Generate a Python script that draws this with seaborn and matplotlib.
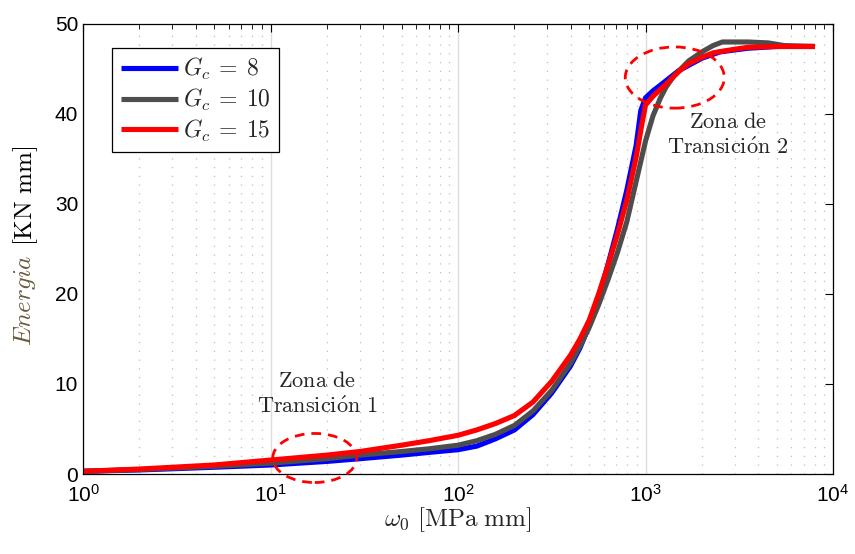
import matplotlib
matplotlib.use("Agg")
import numpy as np
import pandas as pd
import seaborn as sns
import matplotlib.pyplot as plt
from matplotlib.patches import Ellipse
from matplotlib.ticker import LogLocator, NullFormatter

# Energy vs. omega_0 for three critical energy release rates G_c
w_gc8 = [1, 2, 5, 10, 20, 30, 50, 70, 100, 126, 158, 200, 251, 316, 398, 447, 501, 562,
         631, 708, 794, 891, 944, 1000, 1100, 1200, 1500, 2000, 2500, 3500, 5000, 8000]
e_gc8 = [0.3, 0.45, 0.75, 1.0, 1.4, 1.7, 2.1, 2.4, 2.7, 3.1, 3.9, 4.9, 6.6, 9.0, 12.0, 14.0,
         16.5, 19.6, 23.3, 27.2, 31.5, 36.5, 40.4, 41.8, 42.6, 43.2, 44.8, 46.2, 46.9, 47.3,
         47.5, 47.5]

w_gc10 = [1, 2, 5, 10, 20, 30, 50, 70, 100, 126, 158, 200, 251, 316, 398, 447, 501, 562,
          631, 708, 794, 891, 1000, 1096, 1202, 1288, 1413, 1700, 2000, 2290, 2570, 3500,
          4500, 5500, 8000]
e_gc10 = [0.3, 0.5, 0.85, 1.2, 1.7, 2.1, 2.5, 2.8, 3.2, 3.7, 4.4, 5.4, 7.0, 9.3, 12.3, 14.2,
          16.3, 18.8, 21.6, 24.6, 28.0, 32.5, 37.0, 39.8, 41.8, 43.0, 44.2, 45.9, 46.9, 47.6,
          48.0, 48.0, 47.9, 47.6, 47.5]

w_gc15 = [1, 2, 5, 10, 20, 30, 50, 70, 100, 126, 158, 200, 251, 316, 398, 447, 501, 562,
          631, 708, 794, 891, 955, 1000, 1100, 1300, 1500, 1700, 2000, 2300, 3000, 3500,
          5000, 8000]
e_gc15 = [0.3, 0.55, 1.0, 1.55, 2.1, 2.5, 3.2, 3.7, 4.3, 4.9, 5.6, 6.5, 8.0, 10.3, 13.2, 15.0,
          17.1, 20.0, 23.2, 26.6, 30.4, 35.2, 38.8, 41.0, 42.0, 43.4, 44.7, 45.6, 46.3, 46.8,
          47.2, 47.4, 47.5, 47.5]

series_labels = [r"$G_c\:=\:8$", r"$G_c\:=\:10$", r"$G_c\:=\:15$"]
series_colors = ["#0000ff", "#4d4d4d", "#ff0000"]

x_ticks = [1, 10, 100, 1000, 10000]
y_ticks = [0, 10, 20, 30, 40, 50]

sns.set_theme(style="white")
plt.rcParams["font.family"] = ["Liberation Sans", "DejaVu Sans"]
plt.rcParams["mathtext.fontset"] = "cm"

df = pd.concat(
    [
        pd.DataFrame({"omega": w, "energia": e, "serie": lab})
        for w, e, lab in zip([w_gc8, w_gc10, w_gc15], [e_gc8, e_gc10, e_gc15], series_labels)
    ],
    ignore_index=True,
)

fig = plt.figure(figsize=(8.55, 5.54), dpi=100)
ax = fig.add_axes([0.0971, 0.1444, 0.8772, 0.8123])
ax.set_xscale("log")

sns.lineplot(
    data=df, x="omega", y="energia", hue="serie", hue_order=series_labels,
    palette=dict(zip(series_labels, series_colors)), sort=False, estimator=None,
    linewidth=3.7, ax=ax,
)
for ln in ax.get_lines():
    ln.set_solid_joinstyle("round")
    ln.set_solid_capstyle("butt")

ax.set_xlim(1, 1e4)
ax.set_ylim(0, 50)
ax.set_xticks(x_ticks)
ax.xaxis.set_minor_locator(LogLocator(base=10, subs=np.arange(2, 10), numticks=20))
ax.xaxis.set_minor_formatter(NullFormatter())
ax.set_yticks(y_ticks)
ax.tick_params(axis="both", which="both", direction="in", top=True, right=True,
               labelsize=15, colors="black")
ax.tick_params(which="major", length=6, width=0.8)
ax.tick_params(which="minor", length=3.5, width=0.6)
ax.tick_params(axis="x", which="major", pad=7)
ax.tick_params(axis="y", which="minor", left=False, right=False)

for s in ax.spines.values():
    s.set_color("black")
    s.set_linewidth(0.9)

# vertical grid: solid at decades, dotted at minor ticks
ax.grid(True, which="major", axis="x", color="#dddddd", linestyle="-", linewidth=1.0)
ax.grid(True, which="minor", axis="x", color="#bdbdbd", linestyle=(0, (1, 6)), linewidth=0.9)
ax.grid(False, axis="y")
ax.set_axisbelow(True)

# axis labels
ax.set_xlabel(r"$\omega_0\ \mathrm{[MPa\ mm]}$", fontsize=18, labelpad=0)
ax.set_ylabel("")
ax.text(-0.077, 0.385, r"$Energia$", rotation=90, ha="center", va="center",
        fontsize=18, color="#6b5a3c", transform=ax.transAxes)
ax.text(-0.077, 0.617, r"$\mathrm{[KN\ mm]}$", rotation=90, ha="center", va="center",
        fontsize=18, color="black", transform=ax.transAxes)

# legend
handles, labels = ax.get_legend_handles_labels()
ax.get_legend().remove()
leg = ax.legend(handles, labels, loc="upper left", bbox_to_anchor=(0.039, 0.947),
                borderaxespad=0, fontsize=17, handlelength=2.45, handletextpad=0.2,
                labelspacing=0.2, borderpad=0.35, fancybox=False, framealpha=1,
                edgecolor="black")
leg.get_frame().set_linewidth(0.9)
for ln in leg.get_lines():
    ln.set_linewidth(3.7)

# transition zones
for (cx, cy, ew, eh) in [(0.309, 0.0356, 0.112, 0.109), (0.789, 0.881, 0.132, 0.136)]:
    ax.add_patch(Ellipse((cx, cy), ew, eh, transform=ax.transAxes, fill=False,
                         edgecolor="#ff0000", linewidth=2.0, linestyle=(0, (3.5, 2.5)),
                         clip_on=False, zorder=5))

ax.text(0.312, 0.176, r"$\mathrm{Zona\ de}$" + "\n" + r"$\mathrm{Transici\acute{o}n\ 1}$",
        transform=ax.transAxes, ha="center", va="center", fontsize=16, linespacing=1.3)
ax.text(0.86, 0.753, r"$\mathrm{Zona\ de}$" + "\n" + r"$\mathrm{Transici\acute{o}n\ 2}$",
        transform=ax.transAxes, ha="center", va="center", fontsize=16, linespacing=1.3)

fig.savefig("out.png", dpi=100)
